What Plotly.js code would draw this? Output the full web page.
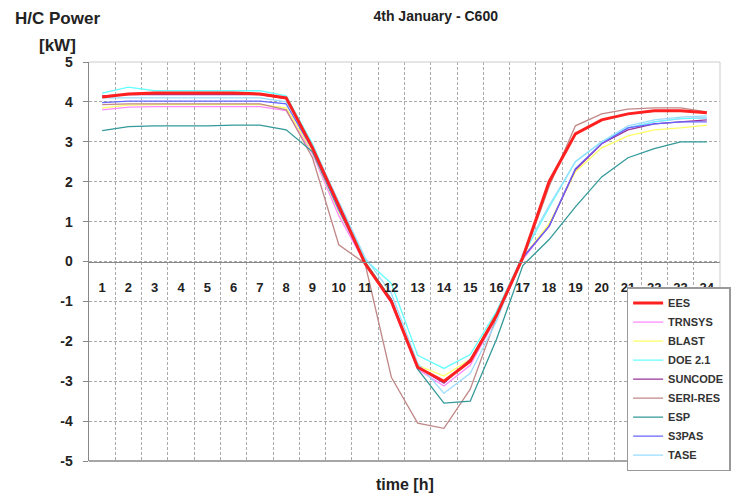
<!DOCTYPE html>
<html>
<head>
<meta charset="utf-8">
<script src="https://cdn.plot.ly/plotly-3.0.1.min.js"></script>
<style>html,body{margin:0;padding:0;background:#fff;}#chart{width:736px;height:498px;}</style>
</head>
<body>
<div id="chart"></div>
<script>
const hours = [1,2,3,4,5,6,7,8,9,10,11,12,13,14,15,16,17,18,19,20,21,22,23,24];
const hourLabels = hours.map(String);
const yTicks = [5,4,3,2,1,0,-1,-2,-3,-4,-5];

const seriesNames = ["EES","TRNSYS","BLAST","DOE 2.1","SUNCODE","SERI-RES","ESP","S3PAS","TASE"];

const ees     = [4.12,4.20,4.22,4.22,4.22,4.22,4.20,4.10,2.85,1.40,-0.05,-1.00,-2.65,-3.00,-2.50,-1.35,0.10,2.00,3.20,3.55,3.70,3.78,3.78,3.73];
const trnsys  = [3.80,3.87,3.88,3.88,3.88,3.88,3.88,3.78,2.70,1.15,-0.05,-1.05,-2.70,-3.12,-2.60,-1.40,0.05,0.90,2.30,2.95,3.35,3.50,3.58,3.60];
const blast   = [3.85,3.92,3.93,3.93,3.93,3.93,3.93,3.85,2.75,1.25,0.00,-1.00,-2.60,-2.87,-2.45,-1.30,0.10,0.95,2.25,2.85,3.15,3.30,3.35,3.42];
const doe21   = [4.22,4.37,4.28,4.28,4.28,4.28,4.28,4.15,2.95,1.45,0.05,-0.55,-2.35,-2.68,-2.33,-1.25,0.15,1.35,2.50,3.00,3.35,3.50,3.58,3.60];
const suncode = [4.15,4.18,4.18,4.18,4.18,4.18,4.18,4.08,2.85,1.35,-0.05,-0.95,-2.65,-3.05,-2.45,-1.35,0.10,0.88,2.30,2.95,3.30,3.45,3.50,3.55];
const serires = [3.93,3.95,3.95,3.95,3.95,3.95,3.95,3.80,2.60,0.42,-0.05,-2.90,-4.05,-4.18,-3.20,-1.40,0.05,1.88,3.40,3.70,3.82,3.85,3.85,3.75];
const esp     = [3.28,3.38,3.40,3.40,3.40,3.42,3.42,3.30,2.75,1.30,0.00,-0.95,-2.70,-3.55,-3.50,-1.95,-0.10,0.55,1.37,2.12,2.60,2.83,3.00,3.00];
const s3pas   = [3.98,4.02,4.02,4.02,4.02,4.02,4.02,3.95,2.80,1.30,-0.05,-1.00,-2.65,-3.00,-2.50,-1.35,0.10,0.88,2.33,2.96,3.35,3.45,3.50,3.50];
const tase    = [4.10,4.10,4.10,4.10,4.10,4.10,4.10,4.00,2.90,1.50,0.10,-0.80,-2.55,-3.30,-2.80,-1.50,0.20,1.40,2.50,3.00,3.40,3.55,3.62,3.65];

const seriesValues = [ees,trnsys,blast,doe21,suncode,serires,esp,s3pas,tase];
const colors = ["#ff2020","#ff88ff","#ffff66","#66ffff","#993399","#c08888","#339999","#6666ff","#99ddff"];
const widths = [3,1.3,1.3,1.3,1.3,1.3,1.3,1.3,1.3];

const FONT = "Liberation Sans, Arial, sans-serif";
const traces = [];
// draw others first, EES last so it is on top
const drawOrder = [1,2,3,4,5,6,7,8,0];
drawOrder.forEach(i => {
  traces.push({
    type: "scatter", mode: "lines",
    x: hours, y: seriesValues[i], name: seriesNames[i],
    legendrank: i + 1,
    line: {color: colors[i], width: widths[i]}
  });
});

const layout = {
  width: 736, height: 498,
  margin: {l: 89, r: 5, t: 62, b: 37},
  paper_bgcolor: "#fff", plot_bgcolor: "#fff",
  font: {family: FONT, color: "#222"},
  showlegend: true,
  title: {text: "4th January - C600", font: {family: FONT, size: 14, weight: "bold", color: "#222"},
          x: 0.592, xref: "container", xanchor: "center", y: 0.968, yref: "container", yanchor: "middle"},
  xaxis: {
    range: [0.5, 24.5], anchor: "free", position: 0.5,
    tickvals: hours, ticktext: hourLabels, ticks: "",
    tickfont: {family: FONT, size: 13, weight: "bold", color: "#222"},
    ticklabelstandoff: 13,
    showgrid: false, zeroline: false, showline: true, linecolor: "#888", linewidth: 1.5,
    minor: {tick0: 0.5, dtick: 1, showgrid: true, gridcolor: "#aaa", griddash: "3px,2px", gridwidth: 1, ticks: ""},
    fixedrange: true
  },
  yaxis: {
    range: [-5, 5], tickvals: yTicks, ticktext: yTicks.map(String),
    ticks: "outside", ticklen: 5, tickcolor: "#888", ticklabelstandoff: 7,
    tickfont: {family: FONT, size: 14, weight: "bold", color: "#222"},
    showgrid: true, gridcolor: "#aaa", griddash: "3px,2px", gridwidth: 1,
    zeroline: false, showline: true, linecolor: "#888", linewidth: 1.5,
    fixedrange: true
  },
  legend: {
    x: 0.852, y: 0.436, xanchor: "left", yanchor: "top",
    bgcolor: "#fff", bordercolor: "#999", borderwidth: 1.5,
    font: {family: FONT, size: 11, weight: "bold", color: "#333"},
    itemwidth: 30, tracegroupgap: 0
  },
  shapes: [
    {type: "line", xref: "paper", yref: "paper", x0: 0, x1: 1, y0: 0, y1: 0, line: {color: "#888", width: 1.5}},
    {type: "line", xref: "paper", yref: "paper", x0: 0, x1: 1, y0: 1, y1: 1, line: {color: "#ccc", width: 1}},
    {type: "line", xref: "paper", yref: "paper", x0: 1, x1: 1, y0: 0, y1: 1, line: {color: "#ccc", width: 1}}
  ],
  annotations: [
    {text: "H/C Power", xref: "paper", yref: "paper", x: -0.05, y: 1.11, xanchor: "center", yanchor: "middle",
     showarrow: false, font: {family: FONT, size: 17, weight: "bold", color: "#222"}},
    {text: "[kW]", xref: "paper", yref: "paper", x: -0.05, y: 1.042, xanchor: "center", yanchor: "middle",
     showarrow: false, font: {family: FONT, size: 17, weight: "bold", color: "#222"}},
    {text: "time [h]", xref: "paper", yref: "paper", x: 0.5, y: -0.06, xanchor: "center", yanchor: "middle",
     showarrow: false, font: {family: FONT, size: 16, weight: "bold", color: "#222"}}
  ]
};

Plotly.newPlot("chart", traces, layout, {displayModeBar: false, staticPlot: true});
</script>
</body>
</html>
